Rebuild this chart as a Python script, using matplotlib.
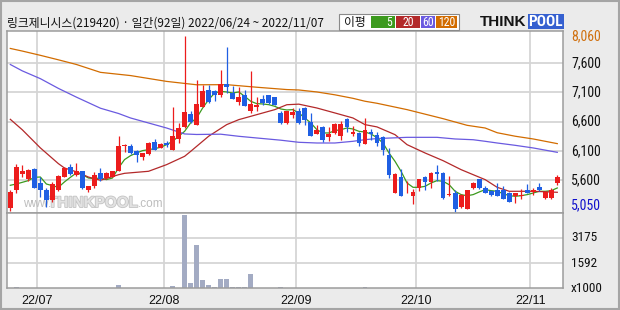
import matplotlib
matplotlib.use("Agg")
import matplotlib.pyplot as plt
from matplotlib.patches import Rectangle
from matplotlib import font_manager as fm
import matplotlib.patheffects as pe
import numpy as np


def pick(names):
    for n in names:
        try:
            fm.findfont(fm.FontProperties(family=n), fallback_to_default=False)
            return n
        except Exception:
            pass
    return "DejaVu Sans"


KR = pick(["Noto Sans CJK KR", "Noto Sans CJK SC"])
NUM = pick(["Liberation Sans Narrow", "Roboto Condensed", "Liberation Sans"])
SANS = pick(["Liberation Sans", "DejaVu Sans"])

# ---------------- data ----------------
title = "링크제니시스(219420) · 일간(92일) 2022/06/24 ~ 2022/11/07"

opens = [5120, 5420, 5710, 5620, 5790, 5550, 5420, 5250, 5420, 5650,
         5820, 5690, 5750, 5420, 5490, 5720, 5630, 5650, 5760, 6190,
         6190, 6100, 5990, 6050, 6250, 6150, 6230, 6120, 6310, 6500,
         6730, 6550, 6850, 7150, 7130, 7050, 7250, 7090, 6940, 7060,
         6790, 6850, 6980, 7050, 7020, 6750, 6580, 6710, 6780, 6830,
         6590, 6390, 6510, 6340, 6410, 6360, 6650, 6390, 6410, 6220,
         6430, 6370, 6330, 6030, 5370, 5650, 5370, 5330, 5470, 5650,
         5570, 5740, 5720, 5340, 5370, 5130, 5110, 5460, 5610, 5460,
         5410, 5420, 5420, 5380, 5320, 5320, 5420, 5400, 5480, 5290,
         5290, 5550]
highs = [5420, 5880, 5860, 5790, 5810, 5650, 5470, 5560, 5690, 5820,
         5870, 5890, 5760, 5500, 5740, 5810, 5730, 5760, 6350, 6210,
         6220, 6120, 6060, 6250, 6310, 6230, 6260, 6850, 6580, 8060,
         6780, 7320, 7220, 7230, 7150, 7490, 7880, 7210, 7190, 7140,
         7470, 7020, 7060, 7060, 7030, 6790, 6790, 6830, 6830, 6850,
         6750, 6540, 6520, 6500, 6580, 6610, 6660, 6520, 6420, 6670,
         6470, 6420, 6350, 6140, 5720, 5780, 5580, 5450, 5610, 5660,
         5740, 5850, 5730, 5660, 5430, 5360, 5430, 5570, 5620, 5490,
         5420, 5550, 5490, 5390, 5380, 5450, 5530, 5460, 5550, 5410,
         5460, 5690]
lows = [5075, 5370, 5650, 5590, 5460, 5310, 5140, 5230, 5410, 5650,
        5690, 5670, 5450, 5390, 5470, 5590, 5620, 5650, 5750, 6080,
        6050, 5900, 5950, 6030, 6110, 6140, 6170, 6110, 6230, 6490,
        6580, 6540, 6850, 6920, 6960, 7030, 7090, 6980, 6890, 6860,
        6750, 6780, 6890, 6910, 6880, 6560, 6560, 6670, 6560, 6540,
        6350, 6380, 6250, 6260, 6390, 6290, 6430, 6350, 6180, 6210,
        6290, 6180, 6020, 5630, 5370, 5320, 5370, 5180, 5410, 5430,
        5460, 5580, 5280, 5320, 5050, 5120, 5100, 5450, 5450, 5370,
        5330, 5320, 5270, 5220, 5210, 5280, 5370, 5350, 5410, 5280,
        5280, 5520]
closes = [5390, 5820, 5760, 5770, 5470, 5420, 5250, 5530, 5660, 5810,
          5710, 5750, 5460, 5500, 5690, 5610, 5720, 5760, 6190, 6200,
          6060, 6030, 6060, 6230, 6120, 6220, 6200, 6360, 6490, 6770,
          6590, 6900, 7130, 6940, 7050, 7250, 7190, 6990, 7020, 6870,
          6900, 6890, 6920, 6920, 6890, 6580, 6780, 6770, 6580, 6620,
          6360, 6450, 6290, 6380, 6560, 6560, 6510, 6420, 6230, 6450,
          6390, 6230, 6120, 5690, 5710, 5330, 5380, 5390, 5610, 5570,
          5720, 5700, 5290, 5350, 5100, 5350, 5420, 5550, 5460, 5380,
          5350, 5330, 5280, 5230, 5380, 5350, 5380, 5420, 5430, 5390,
          5420, 5650]
# volume in thousands of shares
volumes = [50, 110, 45, 45, 45, 45, 45, 45, 45, 45,
           45, 45, 45, 45, 45, 45, 45, 45, 230, 45,
           45, 45, 45, 45, 45, 45, 45, 170, 45, 4630,
           360, 2700, 550, 230, 110, 610, 610, 110, 110, 60,
           930, 50, 50, 50, 50, 110, 50, 50, 50, 50,
           50, 50, 50, 50, 50, 50, 50, 50, 50, 110,
           50, 50, 50, 50, 50, 50, 50, 50, 50, 50,
           50, 50, 50, 50, 50, 50, 50, 50, 50, 50,
           50, 50, 50, 50, 50, 50, 50, 50, 50, 50,
           50, 50]

ma5 = [5509, 5531, 5560, 5589, 5646, 5651, 5531, 5503, 5474, 5566,
       5646, 5720, 5691, 5634, 5623, 5634, 5606, 5634, 5806, 5949,
       6017, 6063, 6103, 6120, 6137, 6160, 6206, 6263, 6349, 6434,
       6580, 6663, 6834, 6977, 7091, 7120, 7109, 7091, 7109, 7034,
       6949, 6909, 6903, 6891, 6863, 6817, 6800, 6806, 6749, 6663,
       6577, 6463, 6406, 6406, 6446, 6463, 6491, 6474, 6434, 6423,
       6389, 6325, 6234, 6063, 5920, 5749, 5549, 5474, 5474, 5491,
       5549, 5589, 5577, 5520, 5406, 5349, 5330, 5349, 5394, 5434,
       5417, 5406, 5366, 5331, 5320, 5331, 5349, 5377, 5406, 5406,
       5417, 5463]
ma20_x = [0, 2, 5, 8, 9, 11, 13, 15, 18, 19, 23, 26, 29, 30, 33, 36, 38, 41,
          44, 46, 48, 51, 54, 57, 59, 61, 64, 66, 69, 72, 75, 77, 79, 81, 83,
          87, 91]
ma20_v = [6640, 6460, 6150, 5880, 5806, 5740, 5650, 5595, 5690, 5714, 5749,
          5863, 6006, 6090, 6350, 6549, 6634, 6720, 6806, 6890, 6900, 6834,
          6749, 6663, 6549, 6510, 6377, 6206, 6063, 5931, 5777, 5691, 5606,
          5474, 5406, 5406, 5389]
ma60_x = [0, 2, 5, 8, 11, 15, 18, 20, 23, 26, 29, 31, 35, 38, 41, 45, 48, 51,
          54, 57, 59, 61, 66, 71, 74, 77, 79, 81, 84, 87, 91]
ma60_v = [7580, 7470, 7337, 7170, 7020, 6830, 6740, 6663, 6577, 6491, 6389,
          6380, 6385, 6349, 6320, 6282, 6246, 6234, 6234, 6263, 6291, 6310,
          6331, 6331, 6303, 6290, 6263, 6234, 6194, 6149, 6074]
ma120_x = [0, 2, 5, 8, 11, 15, 20, 26, 31, 36, 41, 46, 48, 51, 54, 57, 59,
           61, 66, 72, 76, 79, 81, 84, 87, 91]
ma120_v = [7855, 7810, 7737, 7660, 7580, 7445, 7390, 7290, 7232, 7234, 7190,
           7150, 7143, 7109, 7060, 7000, 6950, 6915, 6806, 6651, 6537, 6491,
           6410, 6350, 6303, 6223]

month_labels = ["22/07", "22/08", "22/09", "22/10", "22/11"]
month_first_idx = [5, 26, 48, 68, 87]
price_grid = [5600, 6100, 6600, 7100, 7600]
price_max, price_min = 8060, 5050
vol_ticks = [1592, 3175]
ma_labels = ["5", "20", "60", "120"]

# ---------------- styling ----------------
W, H = 620, 310
BG = "#ebebeb"
RED = "#ec1c1c"
BLUE = "#1f5fe3"
VOLC = "#a3abc3"
GRID = "#d5d5d5"
SPINE = "#9c9c9c"
MA_COL = ["#3c9a1e", "#b3292a", "#6a5ae0", "#d26c00"]

fig = plt.figure(figsize=(W / 100, H / 100), dpi=100, facecolor=BG)


def fx(x):
    return x / W


def fy(y):
    return 1 - y / H


ax_l, ax_r = 7.3, 562.7
p_top, p_bot = 31.0, 212.7
v_bot = 288.3
ax = fig.add_axes([fx(ax_l), fy(p_bot), (ax_r - ax_l) / W, (p_bot - p_top) / H])
axv = fig.add_axes([fx(ax_l), fy(v_bot), (ax_r - ax_l) / W, (v_bot - p_bot) / H],
                   sharex=ax)

n = len(closes)
idx = np.arange(n)
o = np.array(opens, float)
c = np.array(closes, float)
hi = np.array(highs, float)
lo = np.array(lows, float)
up = c >= o
cols = np.where(up, RED, BLUE)

for a in (ax, axv):
    a.set_facecolor("white")
    for s in a.spines.values():
        s.set_color(SPINE)
        s.set_linewidth(1.1)
    a.tick_params(length=0)
    for m in month_first_idx:
        a.axvline(m - 0.5, color=GRID, lw=1.3, zorder=0.3)

ax.set_xlim(-0.5, 91.9)
ax.set_ylim(5039, 8154)
for g in price_grid:
    ax.axhline(g, color=GRID, lw=1.3, zorder=0.3)

# watermark
wm_y = (p_bot - 204) / (p_bot - p_top)
ax.text((22.7 - ax_l) / (ax_r - ax_l), wm_y, "www.", transform=ax.transAxes,
        fontsize=8.5, color="#bdbdbd", family=SANS, va="center", ha="left", zorder=0.5)
ax.text((48 - ax_l) / (ax_r - ax_l), wm_y + 0.005, "THINKPOOL", transform=ax.transAxes,
        fontsize=11, color="#e2e2e2", family=SANS, weight="bold", va="center",
        ha="left", zorder=0.5,
        path_effects=[pe.withStroke(linewidth=1.2, foreground="#c4c4c4")])
ax.text((138 - ax_l) / (ax_r - ax_l), wm_y, ".com", transform=ax.transAxes,
        fontsize=8.5, color="#bdbdbd", family=SANS, va="center", ha="left", zorder=0.5)

# moving averages
ax.plot(idx, ma5, color=MA_COL[0], lw=0.9, zorder=2)
ax.plot(ma20_x, ma20_v, color=MA_COL[1], lw=0.9, zorder=2)
ax.plot(ma60_x, ma60_v, color=MA_COL[2], lw=0.9, zorder=2)
ax.plot(ma120_x, ma120_v, color=MA_COL[3], lw=0.9, zorder=2)

# candles
ax.vlines(idx, lo, hi, colors=cols, lw=0.9, zorder=3)
body_low = np.minimum(o, c)
body_h = np.maximum(np.abs(c - o), 12)
ax.bar(idx, body_h, bottom=body_low, width=0.8, color=cols, linewidth=0, zorder=4)

ax.set_xticks([])
ax.set_yticks([])

# right-side price labels
ytr = ax.get_yaxis_transform()
lab_x = 1.015
for g in price_grid:
    ax.text(lab_x, g, f"{g:,}", transform=ytr, ha="left", va="center",
            fontsize=10, family=NUM, color="#111111", clip_on=False)
ax.text(lab_x, price_max, f"{price_max:,}", transform=ytr, ha="left", va="center",
        fontsize=10, family=NUM, color="#d0700f", clip_on=False)
ax.text(lab_x, price_min, f"{price_min:,}", transform=ytr, ha="left", va="bottom",
        fontsize=10, family=NUM, color="#1010cc", clip_on=False)

# volume
axv.bar(idx, volumes, width=0.8, color=VOLC, linewidth=0, zorder=2)
axv.set_ylim(0, 4760)
for g in vol_ticks:
    axv.axhline(g, color=GRID, lw=1.3, zorder=0.3)
axv.set_yticks([])
vtr = axv.get_yaxis_transform()
for g in vol_ticks:
    axv.text(lab_x, g, str(g), transform=vtr, ha="left", va="center",
             fontsize=9.5, family=NUM, color="#111111", clip_on=False)
axv.text(lab_x, 0, "x1000", transform=vtr, ha="left", va="center",
         fontsize=9.5, family=NUM, color="#111111", clip_on=False)
axv.set_xticks([m - 0.5 for m in month_first_idx])
axv.set_xticklabels(month_labels, fontsize=9, family=SANS, color="#111111")
axv.tick_params(axis="x", pad=5)

# title
fig.text(fx(7), fy(23), title, fontsize=8.5, family=[KR, "DejaVu Sans"],
         ha="left", va="center", color="#111111")

# MA legend box
fig.add_artist(Rectangle((fx(339), fy(30.3)), 120 / W, 16.8 / H, transform=fig.transFigure,
                         facecolor="white", edgecolor="#8a8a8a", lw=0.8))
fig.text(fx(355), fy(22.2), "이평", fontsize=8.5, family=[KR, "DejaVu Sans"],
         ha="center", va="center", color="#111111")
boxes = [(370.5, 395.4), (396.2, 420.0), (420.7, 435.2), (436.0, 456.7)]
for (x0, x1), col, lab in zip(boxes, MA_COL, ma_labels):
    fig.add_artist(Rectangle((fx(x0), fy(28.3)), (x1 - x0) / W, 12.5 / H,
                             transform=fig.transFigure, facecolor=col, edgecolor="none"))
    tx = (x1 - 3) if lab == "5" else (x0 + x1) / 2
    fig.text(fx(tx), fy(22.2), lab, fontsize=8.5, family=NUM,
             ha="right" if lab == "5" else "center", va="center", color="white")

# THINKPOOL logo
fig.add_artist(Rectangle((fx(528), fy(28.8)), 35.5 / W, 14.5 / H, transform=fig.transFigure,
                         facecolor="#3560d0", edgecolor="none"))
fig.text(fx(480), fy(21.6), "THINK", fontsize=11, family=SANS, weight="bold",
         ha="left", va="center", color="#151515")
fig.text(fx(545.8), fy(21.6), "POOL", fontsize=11, family=NUM, weight="bold",
         ha="center", va="center", color="white")

# outer frame
fig.add_artist(Rectangle((0.001, 0.002), 0.997, 0.995, transform=fig.transFigure,
                         facecolor="none", edgecolor="#a5a5a5", lw=1.5))

fig.savefig("out.png", dpi=100, facecolor=BG)
